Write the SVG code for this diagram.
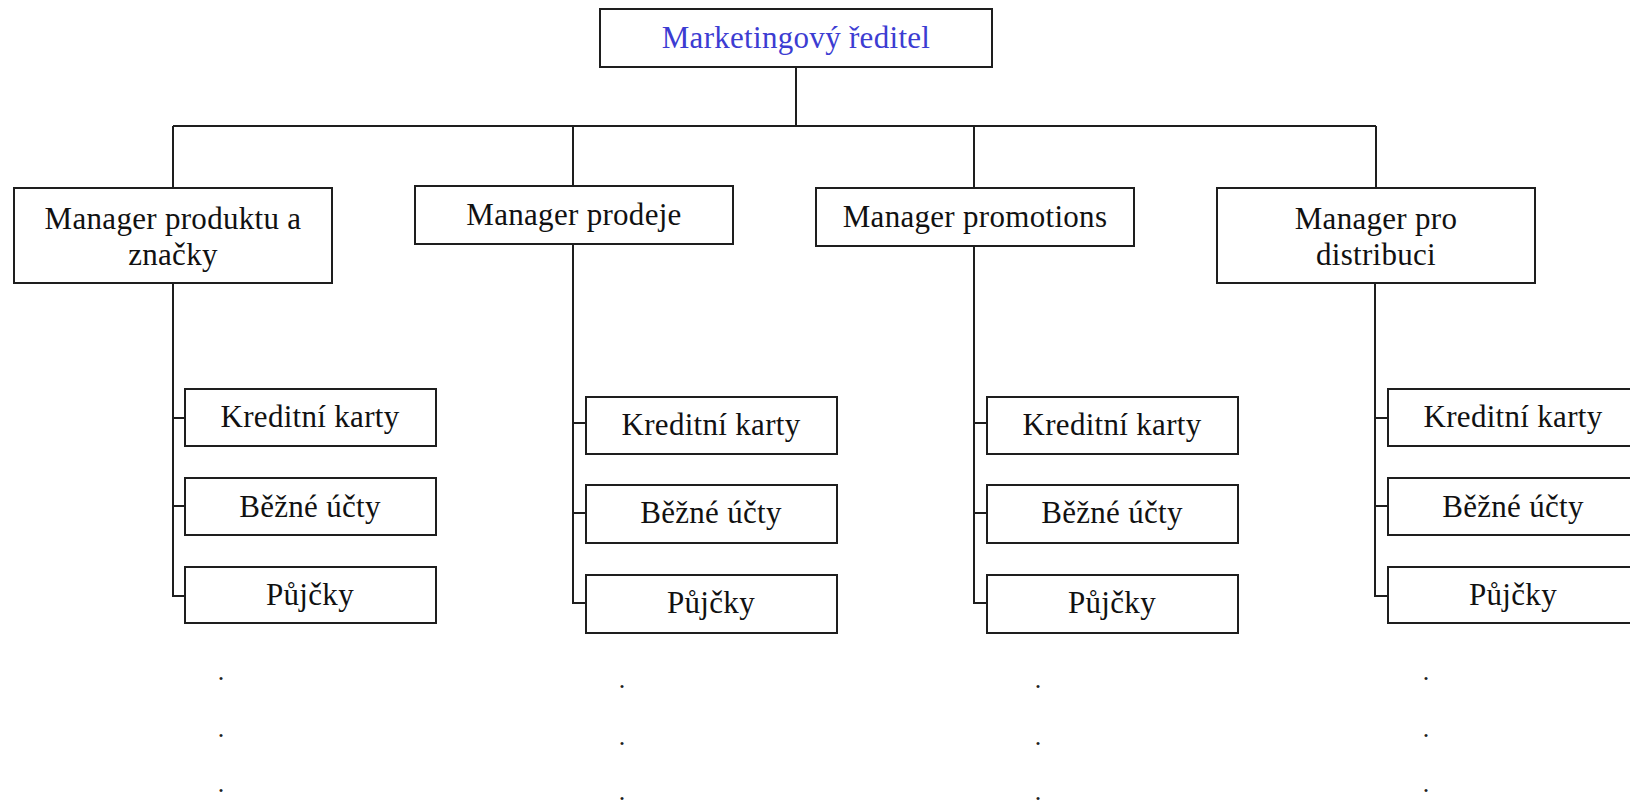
<svg xmlns="http://www.w3.org/2000/svg" width="1630" height="803" viewBox="0 0 1630 803">
  <style>
    .box { fill: #ffffff; stroke: #1e1e1e; stroke-width: 2; }
    .lbl { font-family: "Liberation Serif", "Times New Roman", serif; font-size: 31px; letter-spacing: 0.3px; fill: #111111; text-anchor: middle; }
    .title { fill: #3c3cd2; }
    .dot { font-family: "Liberation Serif", "Times New Roman", serif; font-size: 26px; fill: #222222; text-anchor: middle; }
    .wire { fill: none; stroke: #1e1e1e; stroke-width: 2; }
  </style>
  <rect width="1630" height="803" fill="#ffffff"/>

  <!-- connectors -->
  <g id="connectors">
    <path class="wire" d="M796 67 V126"/>
    <path class="wire" d="M173 126 H1376"/>
    <path class="wire" d="M173 126 V187 M573 126 V185 M974 126 V187 M1376 126 V187"/>
    <!-- column 1 -->
    <path class="wire" d="M173 283 V596 H184 M173 418 H184 M173 506 H184"/>
    <!-- column 2 -->
    <path class="wire" d="M573 244 V603 H585 M573 423 H585 M573 513 H585"/>
    <!-- column 3 -->
    <path class="wire" d="M974 246 V603 H986 M974 423 H986 M974 513 H986"/>
    <!-- column 4 -->
    <path class="wire" d="M1375 283 V596 H1387 M1375 418 H1387 M1375 506 H1387"/>
  </g>

  <!-- top -->
  <g id="reditel">
    <rect class="box" x="600" y="9" width="392" height="58"/>
    <text class="lbl title" x="796" y="48">Marketingový ředitel</text>
  </g>

  <!-- managers -->
  <g id="mgr-produkt">
    <rect class="box" x="14" y="188" width="318" height="95"/>
    <text class="lbl" x="173" y="229">Manager produktu a</text>
    <text class="lbl" x="173" y="265">značky</text>
  </g>
  <g id="mgr-prodej">
    <rect class="box" x="415" y="186" width="318" height="58"/>
    <text class="lbl" x="574" y="225">Manager prodeje</text>
  </g>
  <g id="mgr-promotions">
    <rect class="box" x="816" y="188" width="318" height="58"/>
    <text class="lbl" x="975" y="227">Manager promotions</text>
  </g>
  <g id="mgr-distribuce">
    <rect class="box" x="1217" y="188" width="318" height="95"/>
    <text class="lbl" x="1376" y="229">Manager pro</text>
    <text class="lbl" x="1376" y="265">distribuci</text>
  </g>

  <!-- column 1 children -->
  <g id="c1-karty">
    <rect class="box" x="185" y="389" width="251" height="57"/>
    <text class="lbl" x="310" y="427">Kreditní karty</text>
  </g>
  <g id="c1-ucty">
    <rect class="box" x="185" y="478" width="251" height="57"/>
    <text class="lbl" x="310" y="517">Běžné účty</text>
  </g>
  <g id="c1-pujcky">
    <rect class="box" x="185" y="567" width="251" height="56"/>
    <text class="lbl" x="310" y="605">Půjčky</text>
  </g>

  <!-- column 2 children -->
  <g id="c2-karty">
    <rect class="box" x="586" y="397" width="251" height="57"/>
    <text class="lbl" x="711" y="435">Kreditní karty</text>
  </g>
  <g id="c2-ucty">
    <rect class="box" x="586" y="485" width="251" height="58"/>
    <text class="lbl" x="711" y="523">Běžné účty</text>
  </g>
  <g id="c2-pujcky">
    <rect class="box" x="586" y="575" width="251" height="58"/>
    <text class="lbl" x="711" y="613">Půjčky</text>
  </g>

  <!-- column 3 children -->
  <g id="c3-karty">
    <rect class="box" x="987" y="397" width="251" height="57"/>
    <text class="lbl" x="1112" y="435">Kreditní karty</text>
  </g>
  <g id="c3-ucty">
    <rect class="box" x="987" y="485" width="251" height="58"/>
    <text class="lbl" x="1112" y="523">Běžné účty</text>
  </g>
  <g id="c3-pujcky">
    <rect class="box" x="987" y="575" width="251" height="58"/>
    <text class="lbl" x="1112" y="613">Půjčky</text>
  </g>

  <!-- column 4 children (run past the right edge) -->
  <g id="c4-karty">
    <rect class="box" x="1388" y="389" width="251" height="57"/>
    <text class="lbl" x="1513" y="427">Kreditní karty</text>
  </g>
  <g id="c4-ucty">
    <rect class="box" x="1388" y="478" width="251" height="57"/>
    <text class="lbl" x="1513" y="517">Běžné účty</text>
  </g>
  <g id="c4-pujcky">
    <rect class="box" x="1388" y="567" width="251" height="56"/>
    <text class="lbl" x="1513" y="605">Půjčky</text>
  </g>

  <!-- continuation dots -->
  <g id="dots">
    <text class="dot" x="221" y="680">.</text>
    <text class="dot" x="221" y="737">.</text>
    <text class="dot" x="221" y="792">.</text>
    <text class="dot" x="622" y="688">.</text>
    <text class="dot" x="622" y="745">.</text>
    <text class="dot" x="622" y="800">.</text>
    <text class="dot" x="1038" y="688">.</text>
    <text class="dot" x="1038" y="745">.</text>
    <text class="dot" x="1038" y="800">.</text>
    <text class="dot" x="1426" y="680">.</text>
    <text class="dot" x="1426" y="737">.</text>
    <text class="dot" x="1426" y="792">.</text>
  </g>
</svg>
